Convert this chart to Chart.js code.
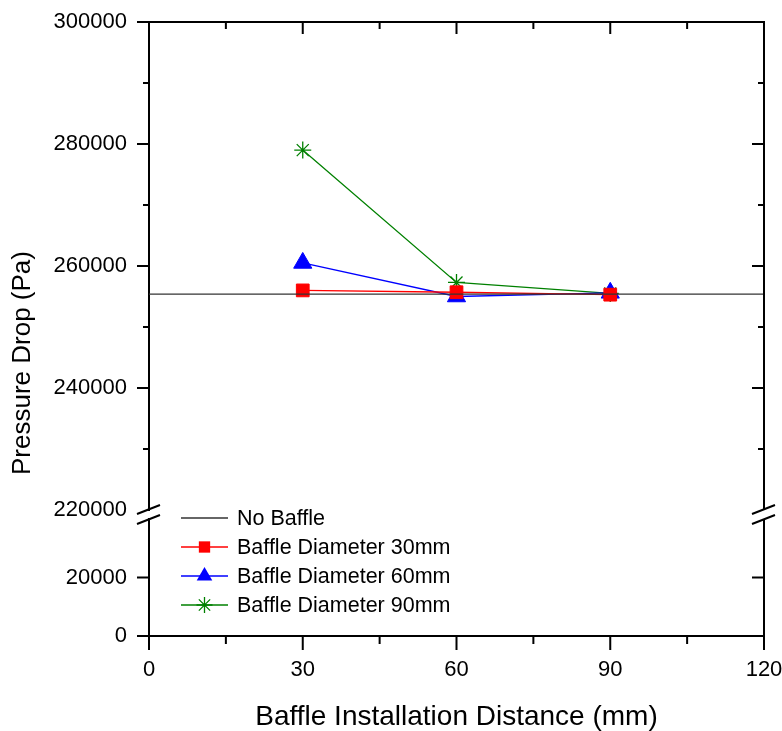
<!DOCTYPE html>
<html>
<head>
<meta charset="utf-8">
<title>Pressure Drop vs Baffle Installation Distance</title>
<script src="https://cdn.jsdelivr.net/npm/chart.js@4.4.1/dist/chart.umd.min.js"></script>
<style>
  html, body { margin: 0; padding: 0; background: #fff; }
  canvas { display: block; }
</style>
</head>
<body>
<canvas id="chartPressure" width="782" height="731"></canvas>
<script>
// ---- data ----
const distances = [30, 60, 90];                 // mm
const noBaffleRange = [0, 120];                 // reference line spans the whole axis
const noBaffleValue = 255400;                   // Pa
const diameter30 = [256000, 255700, 255300];
const diameter60 = [260500, 255000, 255600];
const diameter90 = [279000, 257300, 255500];

const xTicks = [0, 30, 60, 90, 120];
const upperTicks = [220000, 240000, 260000, 280000, 300000];
const lowerTicks = [0, 20000];

const FONT = 'Liberation Sans, Arial, sans-serif';
const toPoints = (xs, ys) => xs.map((x, i) => ({ x: x, y: ys[i] }));

// simple marker painter for the in-plot legend
function drawMarker(ctx, style, x, y, r, color) {
    ctx.save();
    ctx.fillStyle = color; ctx.strokeStyle = color; ctx.lineWidth = 1.3;
    ctx.beginPath();
    if (style === 'rect') {
        const s = r * Math.SQRT1_2;
        ctx.rect(x - s, y - s, 2 * s, 2 * s); ctx.fill();
    } else if (style === 'triangle') {
        for (let k = 0; k < 3; k++) {
            const a = k * 2 * Math.PI / 3;
            const px = x + Math.sin(a) * r, py = y - Math.cos(a) * r;
            k === 0 ? ctx.moveTo(px, py) : ctx.lineTo(px, py);
        }
        ctx.closePath(); ctx.fill();
    } else if (style === 'star') {
        for (let k = 0; k < 4; k++) {
            const a = k * Math.PI / 4;
            ctx.moveTo(x - Math.cos(a) * r, y - Math.sin(a) * r);
            ctx.lineTo(x + Math.cos(a) * r, y + Math.sin(a) * r);
        }
        ctx.stroke();
    }
    ctx.restore();
}

// Origin-style frame: inward ticks on top/right, outward on left/bottom, axis break, legend, y title
const framePlugin = {
    id: 'originFrame',
    afterDraw(chart) {
        const ctx = chart.ctx;
        const sx = chart.scales.x, sUp = chart.scales.y, sLow = chart.scales.yLow;
        const L = chart.chartArea.left, R = chart.chartArea.right;
        const T = chart.chartArea.top, B = chart.chartArea.bottom;
        const upBottom = sUp.bottom, lowTop = sLow.top;

        ctx.save();
        ctx.strokeStyle = '#000';
        ctx.lineWidth = 2;
        ctx.lineCap = 'butt';
        ctx.beginPath();
        // top & right borders
        ctx.moveTo(L, T); ctx.lineTo(R + 1, T);
        ctx.moveTo(R, T); ctx.lineTo(R, upBottom);
        ctx.moveTo(R, lowTop); ctx.lineTo(R, B);

        // y ticks (both segments)
        [[sUp, sUp.min], [sLow, sLow.max]].forEach(([sc, skip]) => {
            sc.ticks.forEach(t => {
                if (t.value === skip) return;
                const py = sc.getPixelForValue(t.value);
                const len = t.label !== '' ? 12 : 6;
                ctx.moveTo(L, py); ctx.lineTo(L - len, py);
                ctx.moveTo(R, py); ctx.lineTo(R - len, py);
            });
        });
        // x ticks
        sx.ticks.forEach(t => {
            const px = sx.getPixelForValue(t.value);
            const major = t.label !== '';
            ctx.moveTo(px, B); ctx.lineTo(px, B + (major ? 14 : 8));
            ctx.moveTo(px, T); ctx.lineTo(px, T + (major ? 12 : 7));
        });
        ctx.stroke();

        // axis break marks
        ctx.beginPath();
        [L, R].forEach(x0 => {
            ctx.moveTo(x0 - 12, upBottom + 4); ctx.lineTo(x0 + 11, upBottom - 5);
            ctx.moveTo(x0 - 12, lowTop + 5); ctx.lineTo(x0 + 11, lowTop - 4);
        });
        ctx.stroke();

        // y axis title
        ctx.fillStyle = '#000';
        ctx.font = '26px ' + FONT;
        ctx.textAlign = 'center';
        ctx.textBaseline = 'middle';
        ctx.translate(23, 363);
        ctx.rotate(-Math.PI / 2);
        ctx.fillText('Pressure Drop (Pa)', 0, 0);
        ctx.restore();

        // legend inside plot
        ctx.save();
        ctx.font = '21.5px ' + FONT;
        ctx.textAlign = 'left';
        ctx.textBaseline = 'middle';
        chart.data.datasets.forEach((ds, i) => {
            const y = 518 + i * 29;
            ctx.strokeStyle = ds.borderColor;
            ctx.lineWidth = 1.3;
            ctx.beginPath(); ctx.moveTo(181, y); ctx.lineTo(228, y); ctx.stroke();
            if (ds.pointRadius > 0) drawMarker(ctx, ds.pointStyle, 204.5, y, ds.legendRadius, ds.borderColor);
            ctx.fillStyle = '#000';
            ctx.fillText(ds.label, 237, y + 1);
        });
        ctx.restore();
    }
};

const tickFont = { family: FONT, size: 22 };
const noPadY = s => { s.width = 149; s.paddingTop = 0; s.paddingBottom = 0; };

new Chart(document.getElementById('chartPressure'), {
    type: 'line',
    data: {
        datasets: [
            {
                label: 'No Baffle',
                data: toPoints(noBaffleRange, [noBaffleValue, noBaffleValue]),
                borderColor: '#333', borderWidth: 1.3, pointRadius: 0, yAxisID: 'y'
            },
            {
                label: 'Baffle Diameter 30mm',
                data: toPoints(distances, diameter30),
                borderColor: '#ff0000', backgroundColor: '#ff0000', borderWidth: 1.3,
                pointStyle: 'rect', pointRadius: 9, legendRadius: 8, pointBorderWidth: 1, yAxisID: 'y'
            },
            {
                label: 'Baffle Diameter 60mm',
                data: toPoints(distances, diameter60),
                borderColor: '#0000ff', backgroundColor: '#0000ff', borderWidth: 1.3,
                pointStyle: 'triangle', pointRadius: 10.5, legendRadius: 9, pointBorderWidth: 1, yAxisID: 'y'
            },
            {
                label: 'Baffle Diameter 90mm',
                data: toPoints(distances, diameter90),
                borderColor: '#008000', backgroundColor: '#008000', borderWidth: 1.3,
                pointStyle: 'star', pointRadius: 8.5, legendRadius: 8, pointBorderWidth: 1.3, yAxisID: 'y'
            }
        ]
    },
    options: {
        responsive: false,
        animation: false,
        events: [],
        layout: { padding: { top: 22, right: 18, bottom: 0, left: 0 } },
        plugins: { legend: { display: false }, tooltip: { enabled: false } },
        scales: {
            x: {
                type: 'linear', min: 0, max: 120,
                ticks: {
                    stepSize: 15, autoSkip: false, maxRotation: 0, padding: 13,
                    font: tickFont, color: '#000',
                    callback: v => xTicks.includes(v) ? String(v) : ''
                },
                grid: { display: false },
                border: { display: true, color: '#000', width: 2 },
                title: {
                    display: true, text: 'Baffle Installation Distance (mm)', color: '#000',
                    font: { family: FONT, size: 28, lineHeight: 1 }, padding: 0
                },
                afterFit: s => { s.height = 95; s.paddingLeft = 0; s.paddingRight = 0; }
            },
            yLow: {
                type: 'linear', position: 'left', stack: 'p', stackWeight: 117,
                min: 0, max: 40000,
                ticks: {
                    stepSize: 10000, padding: 14, font: tickFont, color: '#000',
                    callback: v => lowerTicks.includes(v) ? String(v) : ''
                },
                grid: { display: false },
                border: { display: true, color: '#000', width: 2 },
                afterFit: noPadY
            },
            yGap: {
                type: 'linear', position: 'left', stack: 'p', stackWeight: 9,
                min: 0, max: 1,
                ticks: { display: false },
                grid: { display: false },
                border: { display: false },
                afterFit: noPadY
            },
            y: {
                type: 'linear', position: 'left', stack: 'p', stackWeight: 488,
                min: 220000, max: 300000,
                ticks: {
                    stepSize: 10000, padding: 14, font: tickFont, color: '#000',
                    callback: v => upperTicks.includes(v) ? String(v) : ''
                },
                grid: { display: false },
                border: { display: true, color: '#000', width: 2 },
                afterFit: noPadY
            }
        }
    },
    plugins: [framePlugin]
});
</script>
</body>
</html>
